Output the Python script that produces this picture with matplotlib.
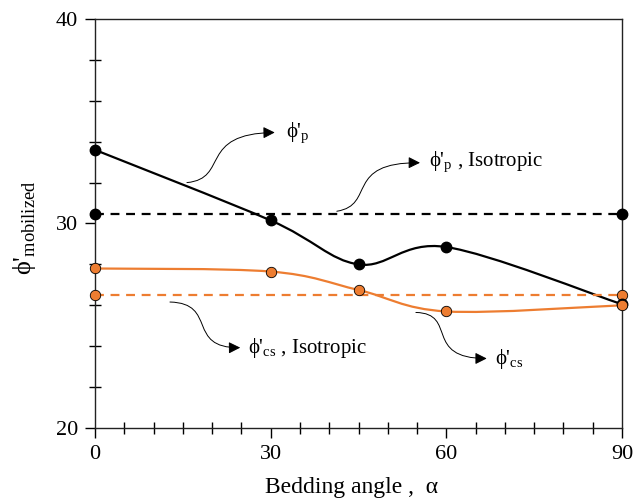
import numpy as np
import matplotlib
matplotlib.use('Agg')
import matplotlib.pyplot as plt
from matplotlib.path import Path
from matplotlib.patches import PathPatch, FancyArrowPatch
from matplotlib.ticker import MultipleLocator

plt.rcParams['font.family'] = ['Liberation Serif', 'DejaVu Serif']
plt.rcParams['mathtext.fontset'] = 'custom'
plt.rcParams['mathtext.rm'] = 'Liberation Serif'

# 数据
angle = [0, 30, 45, 60, 90]
phi_p = [33.6, 30.15, 28.0, 28.85, 26.05]
phi_cs = [27.8, 27.65, 26.75, 25.7, 26.0]
iso_x = [0, 90]
phi_p_iso = [30.45, 30.45]
phi_cs_iso = [26.5, 26.5]

orange = '#ED7D31'
PHI = 'ϕ'


def smooth_path(x, y):
    # Excel 风格的平滑线 (Bezier)
    pts = np.column_stack([x, y]).astype(float)
    n = len(pts)
    verts = [pts[0]]
    codes = [Path.MOVETO]
    for i in range(n - 1):
        p0 = pts[i - 1] if i > 0 else pts[i]
        p1 = pts[i]
        p2 = pts[i + 1]
        p3 = pts[i + 2] if i + 2 < n else pts[i + 1]
        c1 = p1 + (p2 - p0) / 6.0
        c2 = p2 - (p3 - p1) / 6.0
        verts += [c1, c2, p2]
        codes += [Path.CURVE4] * 3
    return Path(verts, codes)


fig = plt.figure(figsize=(6.42, 5.01), dpi=100)
ax = fig.add_axes([95 / 642, 1 - 428 / 501, 527 / 642, 409 / 501])

# 平滑曲线
ax.add_patch(PathPatch(smooth_path(angle, phi_p), fill=False, ec='black', lw=1.6, zorder=2))
ax.add_patch(PathPatch(smooth_path(angle, phi_cs), fill=False, ec=orange, lw=1.6, zorder=2))

# 各向同性虚线
ax.plot(iso_x, phi_p_iso, color='black', lw=1.6, ls=(0, (4, 3)), marker='o', ms=7.5,
        mfc='black', mec='black', clip_on=False, zorder=3)
ax.plot(iso_x, phi_cs_iso, color=orange, lw=1.6, ls=(0, (4, 3)), marker='o', ms=7.5,
        mfc=orange, mec='black', mew=0.6, clip_on=False, zorder=3)

ax.plot(angle, phi_p, ls='none', marker='o', ms=7.5, mfc='black', mec='black', clip_on=False, zorder=4)
ax.plot(angle, phi_cs, ls='none', marker='o', ms=7.5, mfc=orange, mec='black', mew=0.6, clip_on=False, zorder=5)

ax.set_xlim(0, 90)
ax.set_ylim(20, 40)
ax.xaxis.set_major_locator(MultipleLocator(30))
ax.xaxis.set_minor_locator(MultipleLocator(5))
ax.yaxis.set_major_locator(MultipleLocator(10))
ax.yaxis.set_minor_locator(MultipleLocator(2))
ax.tick_params(which='major', direction='out', length=7, width=1, labelsize=16, pad=5)
ax.tick_params(which='minor', direction='inout', length=8, width=1)
for s in ax.spines.values():
    s.set_linewidth(1.0)
    s.set_color('#222222')

ax.set_xlabel('Bedding angle ,  α', fontsize=17)
ax.xaxis.set_label_coords(0.487, -0.12)
ax.set_ylabel(PHI + "'$_{\\mathregular{mobilized}}$", fontsize=19)
ax.yaxis.set_label_coords(-0.108, 0.49)


def curly(start, c1, c2, end, text, tx, ty):
    p = Path([start, c1, c2, end], [Path.MOVETO, Path.CURVE4, Path.CURVE4, Path.CURVE4])
    arr = FancyArrowPatch(path=p, arrowstyle='-|>,head_length=7,head_width=3.5',
                          color='black', lw=0.7, zorder=6)
    ax.add_patch(arr)
    ax.text(tx, ty, text, fontsize=15, va='center', ha='left')


curly((15.7, 32.0), (23.0, 32.2), (17.5, 34.4), (30.7, 34.45), PHI + "'$_{\\mathregular{p}}$", 32.6, 34.4)
curly((41.3, 30.6), (48.0, 30.9), (42.5, 33.0), (55.5, 32.97), PHI + "'$_{\\mathregular{p}}$ , Isotropic", 57.0, 33.0)
curly((12.8, 26.16), (21.0, 26.1), (15.5, 23.9), (24.8, 23.93), PHI + "'$_{\\mathregular{cs}}$ , Isotropic", 26.2, 23.9)
curly((54.8, 25.65), (62.0, 25.6), (56.0, 23.4), (66.9, 23.4), PHI + "'$_{\\mathregular{cs}}$", 68.3, 23.35)

fig.savefig('out.png', dpi=100)
